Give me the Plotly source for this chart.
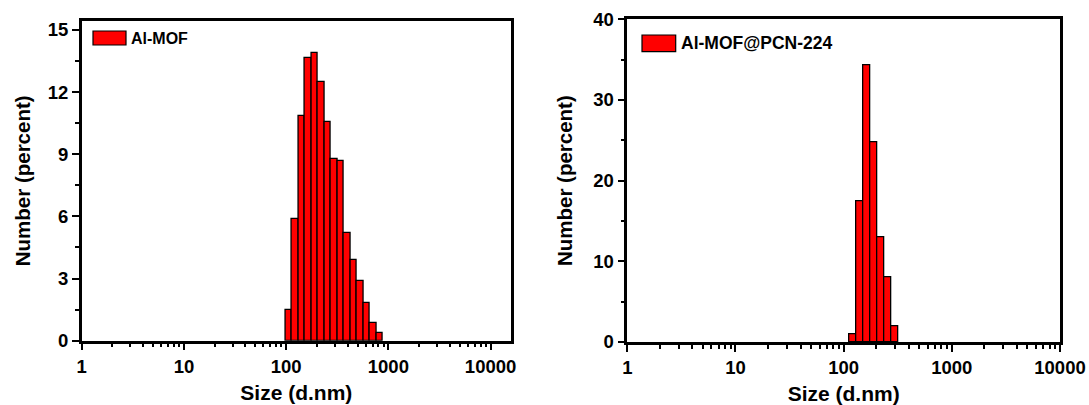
import numpy as np
import plotly.graph_objects as go

# ---- data ----
sizes_a = [105.7, 122.4, 141.8, 164.2, 190.1, 220.2, 255.0, 295.3, 342.0,
           396.1, 458.7, 531.2, 615.1, 712.4, 825.0]
number_a = [1.49, 5.89, 10.84, 13.66, 13.87, 12.47, 10.56, 8.79, 8.66,
            5.19, 3.90, 2.90, 1.80, 0.87, 0.39]

sizes_b = [122.4, 141.8, 164.2, 190.1, 220.2, 255.0, 295.3]
number_b = [0.95, 17.4, 34.3, 24.7, 13.0, 7.96, 1.9]

label_a = "Al-MOF"
label_b = "Al-MOF@PCN-224"
xtick_vals = [1, 10, 100, 1000, 10000]
xtick_text = ["1", "10", "100", "1000", "10000"]
yticks_a = [0, 3, 6, 9, 12, 15]
yticks_b = [0, 10, 20, 30, 40]

# Zetasizer log bin width (70 bins from 0.4 to 10000 nm)
bin_w = np.log10(10000 / 0.4) / 69

W, H = 1089, 405
FONT = "Liberation Sans"

fig = go.Figure()
fig.add_trace(go.Bar(x=np.log10(sizes_a), y=number_a, width=bin_w,
                     marker=dict(color="#FF0000", line=dict(color="black", width=1.3)),
                     xaxis="x", yaxis="y", showlegend=False, name=label_a))
fig.add_trace(go.Bar(x=np.log10(sizes_b), y=number_b, width=bin_w,
                     marker=dict(color="#FF0000", line=dict(color="black", width=1.3)),
                     xaxis="x2", yaxis="y2", showlegend=False, name=label_b))

minor_vals = [np.log10(m * 10 ** d) for d in range(0, 5) for m in range(2, 10)]

def xax(domain, rng, anchor):
    mv = [v for v in minor_vals if rng[0] < v < rng[1]]
    return dict(domain=domain, range=rng, anchor=anchor, showgrid=False, zeroline=False,
                showline=True, mirror=True, linecolor="black", linewidth=2.5,
                ticks="outside", ticklen=7, tickwidth=2, tickcolor="black",
                tickvals=[np.log10(v) for v in xtick_vals], ticktext=xtick_text,
                tickfont=dict(family=FONT, size=18.5, color="black", weight="bold"),
                minor=dict(tickvals=mv, ticks="outside", ticklen=4, tickwidth=2,
                           tickcolor="black", showgrid=False),
                title=dict(text="<b>Size (d.nm)</b>", standoff=10,
                           font=dict(family=FONT, size=21, color="black")),
                automargin=False)

def yax(domain, rng, anchor, tv, dminor, standoff):
    return dict(domain=domain, range=rng, anchor=anchor, showgrid=False, zeroline=False,
                showline=True, mirror=True, linecolor="black", linewidth=2.5,
                ticks="outside", ticklen=7, tickwidth=2, tickcolor="black",
                tickvals=tv, ticktext=[str(v) for v in tv],
                tickfont=dict(family=FONT, size=18.5, color="black", weight="bold"),
                minor=dict(dtick=dminor, tick0=0, ticks="outside", ticklen=4, tickwidth=2,
                           tickcolor="black", showgrid=False),
                title=dict(text="<b>Number (percent)</b>", standoff=standoff,
                           font=dict(family=FONT, size=20.5, color="black")),
                automargin=False)

fig.update_layout(
    width=W, height=H,
    margin=dict(l=0, r=0, t=0, b=0),
    paper_bgcolor="white", plot_bgcolor="white",
    bargap=0,
    xaxis=xax([81.7 / W, 511 / W], [0, 4.2], "y"),
    yaxis=yax([1 - 340.7 / H, 1 - 21 / H], [0, 15.43], "x", yticks_a, 1.5, 12),
    xaxis2=xax([627.3 / W, 1060 / W], [0, 4], "y2"),
    yaxis2=yax([1 - 342 / H, 1 - 19.3 / H], [0, 40], "x2", yticks_b, 5, 16),
)

# legends drawn as boxes + text
def legend(x0, x1, y0, y1, tx, ty, text, fs):
    fig.add_shape(type="rect", xref="paper", yref="paper",
                  x0=x0 / W, x1=x1 / W, y0=1 - y1 / H, y1=1 - y0 / H,
                  fillcolor="#FF0000", line=dict(color="black", width=1.2))
    fig.add_annotation(xref="paper", yref="paper", x=tx / W, y=1 - ty / H,
                       xanchor="left", yanchor="middle", showarrow=False,
                       text="<b>" + text + "</b>",
                       font=dict(family=FONT, size=fs, color="black"))

legend(93, 126, 31, 45, 129, 38.5, label_a, 16)
legend(642, 675.7, 35, 51.7, 679, 43.5, label_b, 17.5)

fig.write_html("out.html")
